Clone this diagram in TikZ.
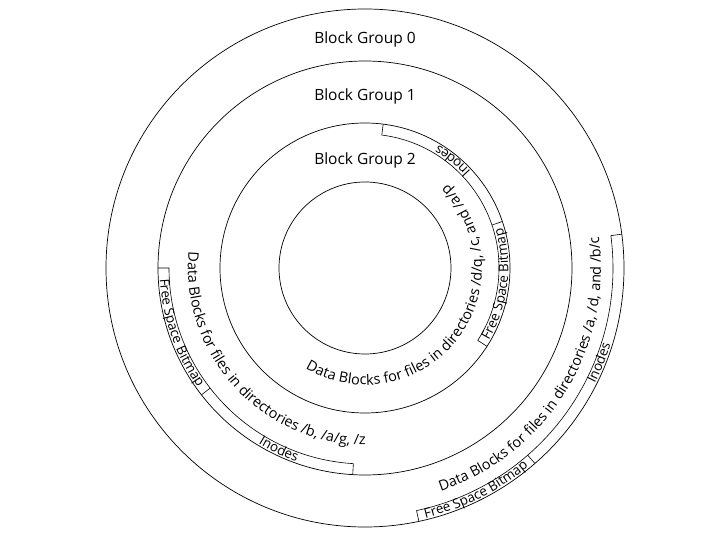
\documentclass[tikz,border=0pt]{standalone}
\usepackage{fontspec}
\setmainfont{Open Sans}
\usetikzlibrary{decorations.text}
\newcommand\bgfont{\fontsize{15.5}{18}\selectfont}
\newcommand\arcfont{\fontsize{13.4}{15}\selectfont}
\newcommand\datafont{\fontsize{14.4}{16}\selectfont}
\tikzset{
  ring/.style={line width=0.7pt},
  band/.style={line width=0.6pt},
  bglabel/.style={anchor=base, inner sep=0pt, font=\bgfont},
  arctext/.style={decorate, decoration={text along path, text align=center, text={|\arcfont|#1}}},
  datatext/.style={decorate, decoration={text along path, text align=center, text={|\datafont|#1}}}
}
\begin{document}
\begin{tikzpicture}
\useasboundingbox[fill=white] (-365pt,-272pt) rectangle (355pt,268pt);
% rings
\draw[ring] (0,0) circle[radius=259pt];
\draw[ring] (0,0) circle[radius=207pt];
\draw[ring] (0,0) circle[radius=145pt];
\draw[ring] (0,0) circle[radius=86pt];
% group labels
\node[bglabel] (bg0) at (0pt,224.7pt) {Block Group 0};
\node[bglabel] (bg1) at (0pt,167pt) {Block Group 1};
\node[bglabel] (bg2) at (0pt,103.7pt) {Block Group 2};
% bands, group 2
\draw[band] (82.8:145pt) -- (82.8:134pt) arc[start angle=82.8, end angle=-32.7, radius=134pt] -- (-32.7:145pt);
\draw[band] (18.7:134pt) -- (18.7:145pt);
% bands, group 1
\draw[band] (180:207pt) -- (180:196pt) arc[start angle=180, end angle=266.6, radius=196pt] -- (266.6:207pt);
\draw[band] (217.8:196pt) -- (217.8:207pt);
% bands, group 0
\draw[band] (7.5:259pt) -- (7.5:248pt) arc[start angle=7.5, end angle=-78, radius=248pt] -- (-78:259pt);
\draw[band] (-49:248pt) -- (-49:259pt);
% band labels
\path[arctext={Inodes}] (18.7:143.3pt) arc[start angle=18.7, end angle=82.8, radius=143.3pt];
\path[arctext={Free Space Bitmap}] (-40:143.3pt) arc[start angle=-40, end angle=26, radius=143.3pt];
\path[arctext={Free Space Bitmap}] (175:205.3pt) arc[start angle=175, end angle=223.6, radius=205.3pt];
\path[arctext={Inodes}] (217.8:205.3pt) arc[start angle=217.8, end angle=271.4, radius=205.3pt];
\path[arctext={Inodes}] (-50:257.3pt) arc[start angle=-50, end angle=6, radius=257.3pt];
\path[arctext={Free Space Bitmap}] (-86:257.3pt) arc[start angle=-86, end angle=-41, radius=257.3pt];
% data texts
\path[datatext={Data Blocks for files in directories /d/q, /c, and /a/p}] (-130:117pt) arc[start angle=-130, end angle=55, radius=117pt];
\path[datatext={Data Blocks for files in directories /b, /a/g, /z}] (160:177pt) arc[start angle=160, end angle=285, radius=177pt];
\path[datatext={Data Blocks for files in directories /a, /d, and /b/c}] (-85:236pt) arc[start angle=-85, end angle=21.4, radius=236pt];
\end{tikzpicture}
\end{document}
